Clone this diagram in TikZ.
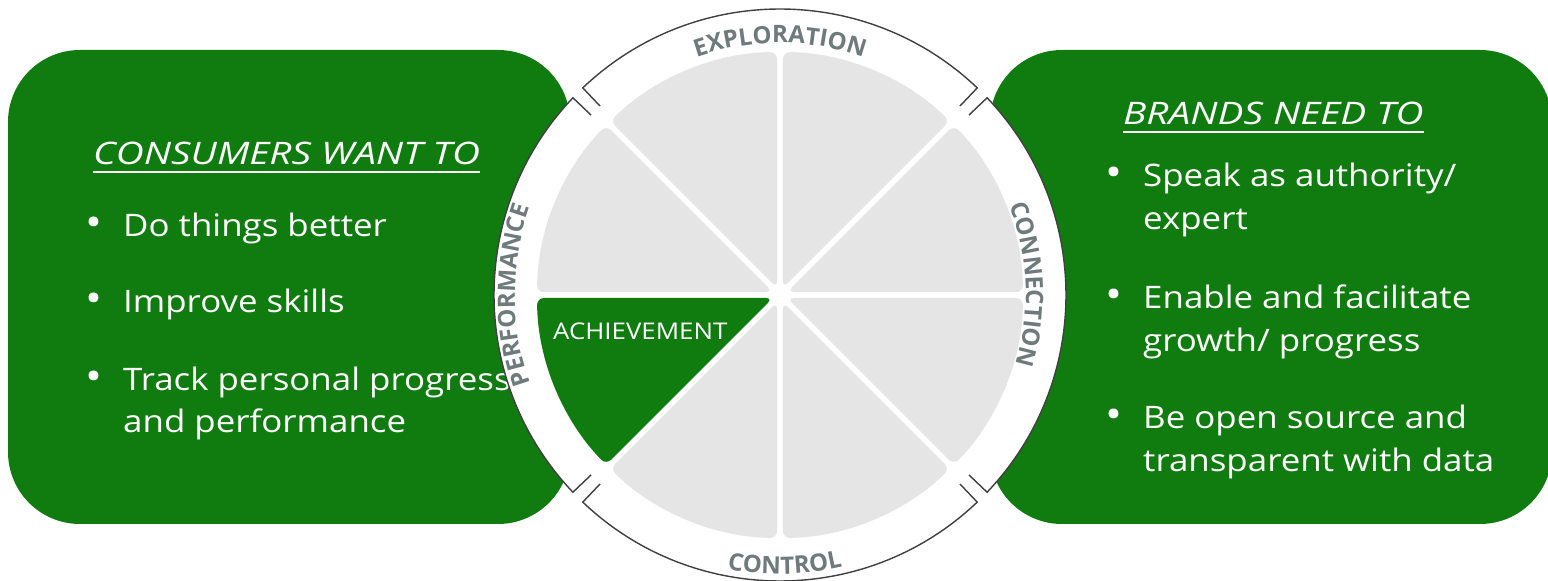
\documentclass[tikz,border=0pt]{standalone}
\usepackage{fontspec}
\setmainfont{Open Sans}[FakeStretch=1.125]
\newfontfamily\headfont{Open Sans}[FakeStretch=1.25]
\newfontfamily\ringfam{Open Sans}
\usetikzlibrary{decorations.text}
\definecolor{xgreen}{HTML}{107C10}
\definecolor{wedgegray}{HTML}{E5E5E5}
\definecolor{ringgray}{HTML}{6E7A7B}
\definecolor{rimline}{HTML}{404040}
\newcommand\ringfont{\ringfam\fontsize{24}{24}\selectfont\bfseries}

\begin{document}
\begin{tikzpicture}[x=1pt,y=1pt,
  panel/.style={fill=xgreen,rounded corners=72pt},
  head/.style={anchor=base west,inner sep=0pt,text=white,font=\headfont\fontsize{31}{31}\selectfont\itshape},
  item/.style={anchor=base west,inner sep=0pt,text=white,font=\fontsize{31}{31}\selectfont},
  dot/.style={anchor=base west,inner sep=0pt,text=white,font=\fontsize{40}{40}\selectfont},
  wedge/.style={fill=wedgegray,rounded corners=7pt},
  rim/.style={draw=rimline,line width=1.4pt},
  ringlabel/.style={decorate,decoration={text along path,text align=center,text color=ringgray}}]

  \useasboundingbox (0,0) rectangle (1548,581);

  \fill[panel] (8,57) rectangle (570,531);
  \fill[panel] (990,57) rectangle (1552,531);

  \node[head] (cwant) at (93,416) {CONSUMERS WANT TO};
  \draw[white,line width=1.6pt] ([yshift=-7pt]cwant.base west) -- ([yshift=-7pt]cwant.base east);
  \node[dot] (cd1) at (85,344) {•};
  \node[item] (c1) at (123,344) {Do things better};
  \node[dot] (cd2) at (85,268) {•};
  \node[item] (c2) at (123,268) {Improve skills};
  \node[dot] (cd3) at (85,190) {•};
  \node[item] (c3) at (123,190) {Track personal progress};
  \node[item] (c3b) at (123,148) {and performance};

  \node[head] (bneed) at (1123,456) {BRANDS NEED TO};
  \draw[white,line width=1.6pt] ([yshift=-7pt]bneed.base west) -- ([yshift=-7pt]bneed.base east);
  \node[dot] (bd1) at (1105,394) {•};
  \node[item] (b1) at (1143,394) {Speak as authority/};
  \node[item] (b1b) at (1143,351) {expert};
  \node[dot] (bd2) at (1105,272) {•};
  \node[item] (b2) at (1143,272) {Enable and facilitate};
  \node[item] (b2b) at (1143,229) {growth/ progress};
  \node[dot] (bd3) at (1105,152) {•};
  \node[item] (b3) at (1143,152) {Be open source and};
  \node[item] (b3b) at (1143,109) {transparent with data};

  \fill[white] (780,286) circle[radius=286];
  \foreach \c in {0,90,180,270}
    \draw[rim,shift={(780,286)}] (\c-43.6:261) -- (\c-43.6:286)
      arc[start angle=\c-43.6,end angle=\c+43.6,radius=286] -- (\c+43.6:261);

  \foreach \a in {0,45,90,135,225,270,315}
    \fill[wedge,shift={(780,286)}] (\a+22.5:7.8) -- (\a+0.7:243)
      arc[start angle=\a+0.7,end angle=\a+44.3,radius=243] -- cycle;
  \fill[wedge,fill=xgreen,shift={(780,286)}] (202.5:7.8) -- (180.7:243)
    arc[start angle=180.7,end angle=224.3,radius=243] -- cycle;
  \node[anchor=base west,inner sep=0pt,text=white,font=\fontsize{23}{23}\selectfont] (ach) at (553,241) {ACHIEVEMENT};

  \path[ringlabel,decoration={text={|\ringfont|EXPLORATION}},shift={(780,286)}]
    (115:252) arc[start angle=115,end angle=65,radius=252];
  \path[ringlabel,decoration={text={|\ringfont|CONNECTION}},shift={(780,286)}]
    (32.5:246) arc[start angle=32.5,end angle=-27.5,radius=246];
  \path[ringlabel,decoration={text={|\ringfont|PERFORMANCE}},shift={(780,286)}]
    (210:265) arc[start angle=210,end angle=150,radius=265];
  \path[ringlabel,decoration={text={|\ringfont|CONTROL}},shift={(780,286)}]
    (241:279) arc[start angle=241,end angle=301,radius=279];
\end{tikzpicture}
\end{document}
